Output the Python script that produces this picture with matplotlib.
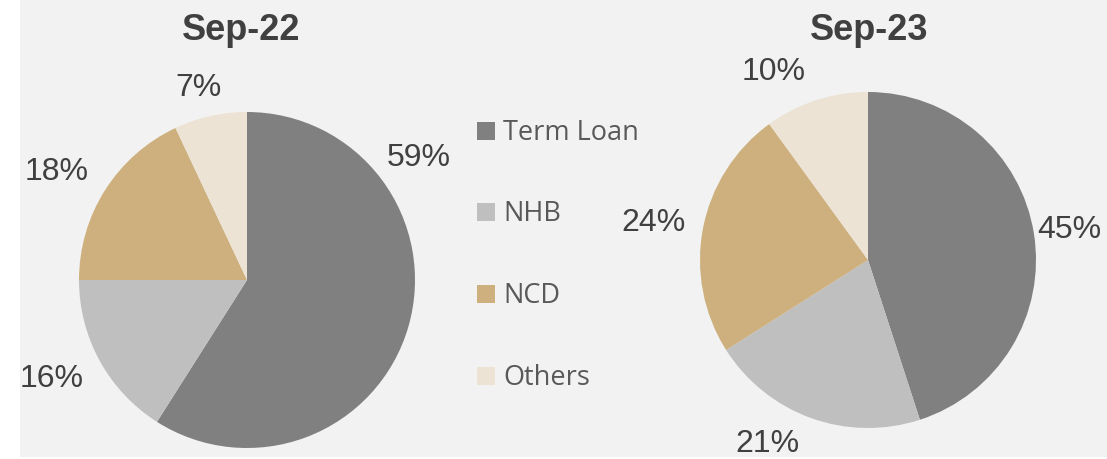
import matplotlib
matplotlib.use("Agg")
import matplotlib.pyplot as plt
from matplotlib.patches import Rectangle

categories = ["Term Loan", "NHB", "NCD", "Others"]
colors = ["#808080", "#bfbfbf", "#cdb07d", "#ede3d4"]
sep22_values = [59, 16, 18, 7]
sep23_values = [45, 21, 24, 10]
titles = ["Sep-22", "Sep-23"]

# label positions (pie radius units) for each period
sep22_label_pos = [(1.021, 0.726), (-1.164, -0.589), (-1.131, 0.640), (-0.289, 1.143)]
sep23_label_pos = [(1.199, 0.179), (-0.601, -1.098), (-1.277, 0.220), (-0.5625, 1.119)]

W, H = 1107, 459
fig = plt.figure(figsize=(W / 100, H / 100), dpi=100)
fig.patch.set_facecolor("white")
fig.patches.append(Rectangle((20 / W, 2 / H), 1 - 20 / W, 1 - 2 / H,
                             transform=fig.transFigure, facecolor="#f2f2f2",
                             edgecolor="none", zorder=-10))

label_font = dict(family="Liberation Sans", size=23, color="#404040")


def draw_pie(cx, cy, r, values, label_pos, title, tx, ty):
    ax = fig.add_axes([(cx - r) / W, (H - cy - r) / H, 2 * r / W, 2 * r / H])
    ax.set_facecolor("none")
    ax.set_zorder(1)
    ax.pie(values, colors=colors, startangle=90, counterclock=False,
           radius=1, wedgeprops=dict(linewidth=0))
    ax.set_xlim(-1, 1)
    ax.set_ylim(-1, 1)
    ax.set_aspect("equal")
    ax.axis("off")
    for v, (x, y) in zip(values, label_pos):
        ax.text(x, y, f"{v}%", ha="center", va="center", clip_on=False,
                **label_font)
    fig.text(tx / W, 1 - ty / H, title, ha="center", va="center",
             family="Liberation Sans", weight="bold", size=26, color="#404040")


draw_pie(247, 280, 168, sep22_values, sep22_label_pos, titles[0], 241, 30)
draw_pie(868, 260, 168, sep23_values, sep23_label_pos, titles[1], 869, 31)

# legend
rows_y = [131, 212, 294, 376]
for cat, col, y in zip(categories, colors, rows_y):
    fig.patches.append(Rectangle((477 / W, 1 - (y + 9) / H), 18 / W, 18 / H,
                                 transform=fig.transFigure, facecolor=col,
                                 edgecolor="none", zorder=2))
    fig.text(503 / W, 1 - (y + 2) / H, cat, ha="left", va="center",
             family="Open Sans", size=19.5, color="#595959")

fig.savefig("out.png", dpi=100, facecolor=fig.get_facecolor())
